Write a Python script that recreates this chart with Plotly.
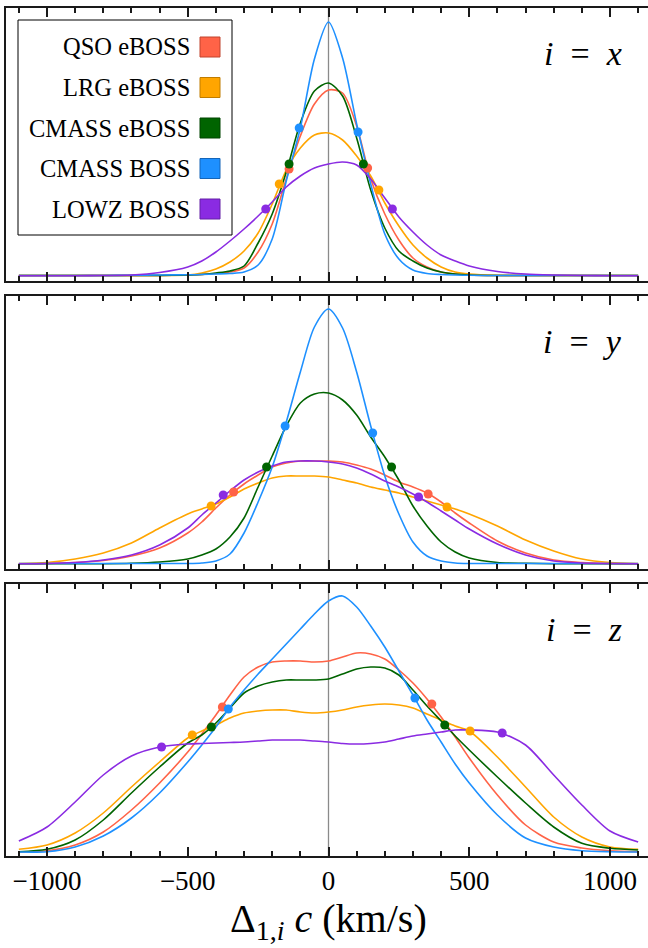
import plotly.graph_objects as go

# ---------------- data ----------------
X_GRID = [-1100, -1000, -900, -800, -700, -600, -500, -450, -400, -350, -300, -250,
          -200, -150, -100, -50, 0, 50, 100, 150, 200, 250, 300, 350, 400, 450, 500,
          600, 700, 800, 900, 1000, 1100]

SERIES = ["QSO eBOSS", "LRG eBOSS", "CMASS eBOSS", "CMASS BOSS", "LOWZ BOSS"]
COLORS = ["#FF6347", "#FFA500", "#006400", "#1E90FF", "#8A2BE2"]
EDGES = ["#C0442F", "#C07C00", "#004400", "#1565B8", "#6420A6"]
PANELS = ["x", "y", "z"]
TICK_VALUES = [-1000, -500, 0, 500, 1000]

# panel i = x  (relative density)
qso_x = [0.5, 0.5, 0.5, 0.5, 0.5, 0.5, 1, 1.5, 2.5, 4, 8, 24, 52, 97, 140, 172, 186, 183,
         150, 97, 62, 36, 18, 9, 4, 2, 1, 0.5, 0.5, 0.5, 0.5, 0.5, 0.5]
lrg_x = [0.5, 0.5, 0.5, 0.5, 0.5, 0.5, 1, 3, 7, 14, 25, 43, 72, 106, 128, 141, 143, 136,
         120, 100, 73, 50, 31, 18, 9, 4, 2, 0.7, 0.5, 0.5, 0.5, 0.5, 0.5]
cmass_e_x = [0.5, 0.5, 0.5, 0.5, 0.5, 0.5, 1, 1.5, 3, 5, 10, 33, 62, 104, 153, 185, 193, 180,
             138, 86, 48, 25, 15, 8, 4, 2, 1, 0.5, 0.5, 0.5, 0.5, 0.5, 0.5]
cmass_b_x = [0.5, 0.5, 0.5, 0.5, 0.8, 1, 1.2, 1.5, 2, 2.5, 4, 11, 37, 95, 148, 217, 254, 218,
             152, 92, 42, 17, 6, 2.5, 1.5, 1, 0.7, 0.5, 0.5, 0.5, 0.5, 0.5, 0.5]
lowz_x = [0.3, 0.3, 0.3, 0.5, 1, 3.5, 9, 15, 24, 35, 47, 60, 74, 89, 100, 108, 112, 114,
          111, 97, 78, 59, 44, 31, 21, 15, 10, 4.5, 2, 1, 0.5, 0.3, 0.3]

# panel i = y
qso_y = [0.3, 0.5, 1.5, 3.5, 8, 16, 31, 42, 56, 69, 80, 89, 97, 101, 103, 103, 103, 102,
         99, 95, 89, 82, 77, 71, 62, 51, 41, 23, 11, 4, 1.5, 0.5, 0.3]
lrg_y = [0.5, 1.5, 5, 11, 21, 36, 50, 55, 60, 67, 75, 81, 86, 88, 88, 88, 87, 84,
         81, 77, 74, 71, 67, 63, 59, 55, 50, 38, 24, 13, 5, 1.5, 0.5]
cmass_e_y = [0.3, 0.3, 0.3, 0.3, 0.7, 2, 5, 9, 15, 27, 46, 77, 108, 138, 161, 170, 171, 164,
             149, 127, 107, 84, 58, 38, 22, 12, 6, 1.5, 0.7, 0.3, 0.3, 0.3, 0.3]
cmass_b_y = [0.5, 0.5, 0.5, 0.5, 0.5, 0.5, 0.5, 1, 3, 10, 31, 62, 97, 142, 192, 237, 255, 236,
             192, 138, 88, 50, 22, 8, 3, 1, 0.5, 0.5, 0.5, 0.5, 0.5, 0.5, 0.5]
lowz_y = [0.3, 0.5, 1.5, 4, 9, 19, 36, 49, 61, 73, 84, 92, 98, 102, 103, 103, 102, 100,
          96, 90, 83, 77, 70, 62, 53, 44, 35, 20, 9, 3, 1, 0.5, 0.3]

# panel i = z
qso_z = [0.3, 1.3, 7, 20, 42, 69, 100, 118, 137, 157, 175, 185, 190, 191, 191, 190, 191, 195,
         199, 198, 193, 182, 169, 153, 135, 115, 94, 57, 27, 10, 4, 1.3, 0.3]
lrg_z = [2.7, 7, 19, 39, 65, 90, 114, 121, 127, 134, 139, 141, 142, 142, 140, 139, 140, 142,
         145, 147, 148, 147, 144, 138, 132, 126, 121, 95, 65, 35, 15, 5, 2.7]
cmass_e_z = [0.3, 2.7, 12, 32, 59, 85, 109, 117, 129, 144, 159, 166, 170, 172, 172, 172, 173, 178,
             183, 185, 184, 177, 162, 146, 131, 116, 102, 75, 49, 25, 8.7, 3.7, 2]
cmass_b_z = [0, 0.3, 5, 16, 34, 59, 90, 107, 125, 145, 162, 178, 193, 208, 223, 238, 251, 256,
             245, 226, 205, 181, 157, 132, 110, 88, 69, 37, 14, 5, 1.3, 0.3, 0]
lowz_z = [11, 25, 50, 77, 96, 105, 108, 108.5, 109, 109.5, 110, 111, 112, 112, 112, 111, 110, 108.5,
          108, 108.5, 110, 113, 116, 118, 120, 122, 122, 120, 107, 77, 47, 21, 10]

CURVES = {
    "x": [qso_x, lrg_x, cmass_e_x, cmass_b_x, lowz_x],
    "y": [qso_y, lrg_y, cmass_e_y, cmass_b_y, lowz_y],
    "z": [qso_z, lrg_z, cmass_e_z, cmass_b_z, lowz_z],
}

# marked points on each curve: (left x, right x) and (left value, right value)
dots_pos_x = [[-140, 139], [-175, 179], [-140, 124], [-104, 105], [-223, 227]]
dots_val_x = [[107, 108], [92, 86], [112, 112], [148, 144], [67, 67]]
dots_pos_y = [[-337, 354], [-417, 421], [-220, 224], [-154, 157], [-374, 320]]
dots_val_y = [[72, 70], [58, 57], [97, 97], [138, 131], [69, 67]]
dots_pos_z = [[-377, 367], [-484, 503], [-416, 413], [-356, 307], [-593, 617]]
dots_val_z = [[145, 148], [117, 121], [125, 127], [143, 154], [105, 119]]
DOTS = {
    "x": (dots_pos_x, dots_val_x),
    "y": (dots_pos_y, dots_val_y),
    "z": (dots_pos_z, dots_val_z),
}

# ---------------- layout geometry (pixels) ----------------
W, H = 648, 948
ML, MR, MT, MB = 6, 0, 8, 91
PLOT_W = W - ML - MR
PLOT_H = H - MT - MB
PX0, PXS = 328.5, 0.2815          # pixel of x=0, pixels per km/s
X_RANGE = [(ML - PX0) / PXS, (W - MR - PX0) / PXS]
PANEL_PX = [(8, 281, 276), (296, 569, 564), (584, 856, 852)]  # top, bottom, baseline

def fx(px):
    return (px - ML) / PLOT_W

def fy(py):
    return (H - MB - py) / PLOT_H

SERIF = "Liberation Serif, Times New Roman, serif"
FRAME = "#1a1a1a"

fig = go.Figure()

for p, key in enumerate(PANELS):
    sfx = "" if p == 0 else str(p + 1)
    for s in range(len(SERIES)):
        fig.add_trace(go.Scatter(
            x=X_GRID, y=CURVES[key][s], mode="lines",
            line=dict(color=COLORS[s], width=1.6, shape="spline", smoothing=0.8),
            xaxis="x" + sfx, yaxis="y" + sfx, showlegend=False, hoverinfo="skip"))
    pos, val = DOTS[key]
    for s in range(len(SERIES)):
        fig.add_trace(go.Scatter(
            x=pos[s], y=val[s], mode="markers",
            marker=dict(color=COLORS[s], size=9, line=dict(width=0)),
            xaxis="x" + sfx, yaxis="y" + sfx, showlegend=False, hoverinfo="skip"))

    top, bot, base = PANEL_PX[p]
    xa = dict(range=X_RANGE, domain=[0, 1], anchor="y" + sfx,
              showline=True, linecolor=FRAME, linewidth=2, mirror="allticks",
              ticks="inside", ticklen=9, tickwidth=2, tickcolor=FRAME,
              tickmode="array", tickvals=TICK_VALUES,
              minor=dict(ticks="inside", ticklen=5, tickwidth=1.5, tickcolor=FRAME,
                         dtick=100, tick0=0, showgrid=False),
              showgrid=False, zeroline=False,
              showticklabels=(p == 2),
              tickfont=dict(family=SERIF, size=27, color="black"))
    if p != 0:
        xa["matches"] = "x"
    ya = dict(range=[-(bot - base), base - top], domain=[fy(bot), fy(top)],
              anchor="x" + sfx, showline=True, linecolor=FRAME, linewidth=2,
              mirror=False, ticks="", showticklabels=False, showgrid=False,
              zeroline=False)
    fig.update_layout({"xaxis" + sfx: xa, "yaxis" + sfx: ya})

    fig.add_shape(type="line", xref="x" + sfx, yref="y" + sfx + " domain",
                  x0=0, x1=0, y0=0, y1=1, line=dict(color="#8a8a8a", width=1.3),
                  layer="below")

    fig.add_annotation(
        text="<i>i</i>\u2002=\u2002<i>" + key + "</i>", xref="paper", yref="paper",
        x=fx(624), y=fy(top + 45), xanchor="right", yanchor="middle",
        showarrow=False, font=dict(family=SERIF, size=34, color="black"))

# ---------------- legend (drawn in panel 1) ----------------
fig.add_shape(type="rect", xref="paper", yref="paper",
              x0=fx(18), x1=fx(232), y0=fy(235), y1=fy(20),
              line=dict(color="black", width=1), fillcolor="white", layer="above")
ROW_Y = [47, 87.5, 128, 168.5, 209]
for s, name in enumerate(SERIES):
    fig.add_annotation(text=name, xref="paper", yref="paper",
                       x=fx(192), y=fy(ROW_Y[s]), xanchor="right", yanchor="middle",
                       showarrow=False, font=dict(family=SERIF, size=24.5, color="black"))
    fig.add_shape(type="rect", xref="paper", yref="paper",
                  x0=fx(200), x1=fx(220), y0=fy(ROW_Y[s] + 10), y1=fy(ROW_Y[s] - 10),
                  fillcolor=COLORS[s], line=dict(color=EDGES[s], width=1), layer="above")

# ---------------- x-axis title ----------------
fig.add_annotation(text="\u0394<sub>1,<i>i</i></sub> <i>c</i> (km/s)",
                   xref="paper", yref="paper", x=fx(328.5), y=fy(921),
                   xanchor="center", yanchor="middle", showarrow=False,
                   font=dict(family=SERIF, size=40, color="black"))

fig.update_layout(width=W, height=H, margin=dict(l=ML, r=MR, t=MT, b=MB),
                  paper_bgcolor="white", plot_bgcolor="white", showlegend=False)

fig.write_html("out.html", config={"displayModeBar": False},
               post_script="document.body.style.margin='0px';"
                           "document.body.style.overflow='hidden';")
